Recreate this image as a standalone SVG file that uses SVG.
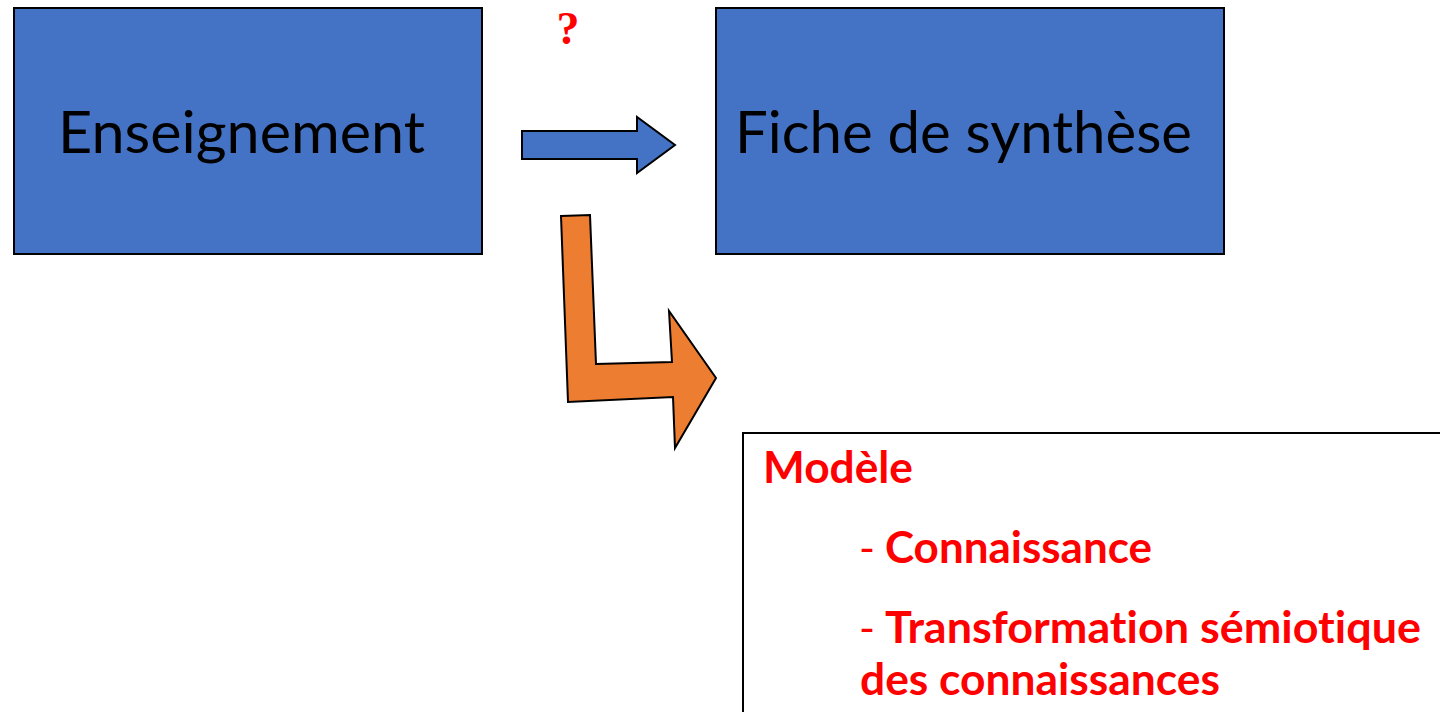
<svg xmlns="http://www.w3.org/2000/svg" width="1440" height="712" viewBox="0 0 1440 712">
<style>
.box{fill:#4472C4;stroke:#000;stroke-width:2}
.lbl{font-family:Lato,"Open Sans","Liberation Sans",sans-serif;font-size:58px;fill:#000;font-variant-ligatures:none}
.red{font-family:Lato,"Open Sans","Liberation Sans",sans-serif;font-size:43px;font-weight:bold;fill:#FF0000;font-variant-ligatures:none}
.dash{font-weight:normal}
</style>
<rect width="1440" height="712" fill="#fff"/>
<g id="enseignement">
<rect class="box" x="14" y="8" width="468" height="246"/>
<text class="lbl" x="58" y="153" textLength="367" lengthAdjust="spacingAndGlyphs">Enseignement</text>
</g>
<g id="fiche">
<rect class="box" x="716" y="8" width="508" height="246"/>
<text class="lbl" x="735" y="153" textLength="457" lengthAdjust="spacingAndGlyphs">Fiche de synthèse</text>
</g>
<g id="modele">
<rect x="743" y="433" width="710" height="300" fill="#fff" stroke="#000" stroke-width="2"/>
<text class="red" x="763" y="483" textLength="150" lengthAdjust="spacingAndGlyphs">Modèle</text>
<text class="red" x="859" y="563"><tspan class="dash">-</tspan><tspan x="885" textLength="267" lengthAdjust="spacingAndGlyphs">Connaissance</tspan></text>
<text class="red" x="859" y="643"><tspan class="dash">-</tspan><tspan x="885" textLength="536" lengthAdjust="spacingAndGlyphs">Transformation sémiotique</tspan></text>
<text class="red" x="860" y="695" textLength="360" lengthAdjust="spacingAndGlyphs">des connaissances</text>
</g>
<g id="connectors">
<text x="568" y="44" text-anchor="middle" font-family="'Liberation Serif',serif" font-weight="bold" font-size="46" fill="#FF0000">?</text>
<polygon points="522,131 637,131 637,117 675,145 637,173 637,159 522,159" fill="#4472C4" stroke="#000" stroke-width="2"/>
<polygon points="561,216 590,215 596,364 672,362 669,311 716,378 675,448 673,397 568,402" fill="#ED7D31" stroke="#000" stroke-width="2" stroke-linejoin="miter"/>
</g>
</svg>
